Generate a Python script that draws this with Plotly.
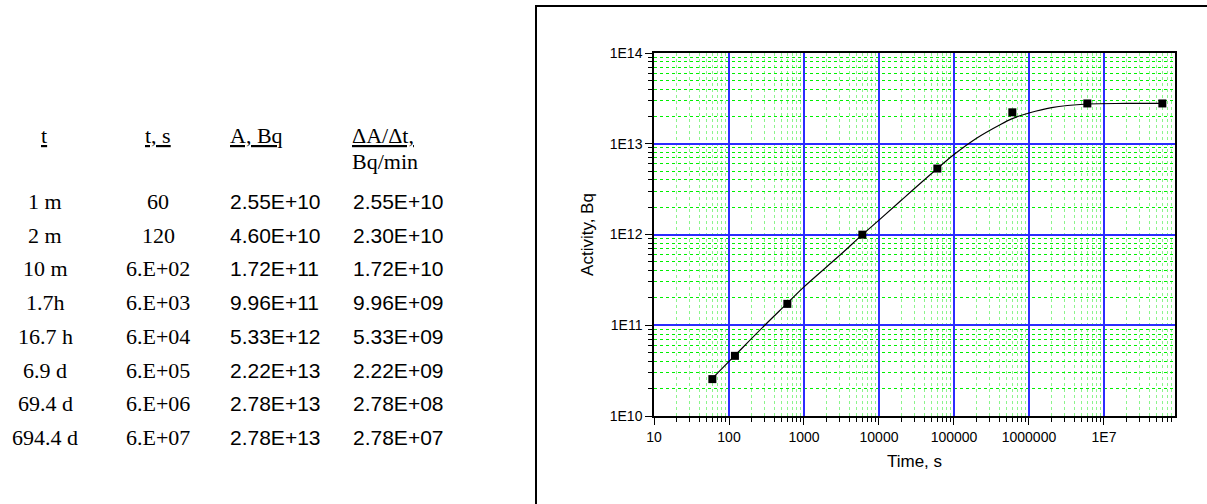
import plotly.graph_objects as go

# ---------------- data ----------------
# table columns
t_labels = ["1 m", "2 m", "10 m", "1.7h", "16.7 h", "6.9 d", "69.4 d", "694.4 d"]
t_s_labels = ["60", "120", "6.E+02", "6.E+03", "6.E+04", "6.E+05", "6.E+06", "6.E+07"]
A_labels = ["2.55E+10", "4.60E+10", "1.72E+11", "9.96E+11", "5.33E+12",
            "2.22E+13", "2.78E+13", "2.78E+13"]
dAdt_labels = ["2.55E+10", "2.30E+10", "1.72E+10", "9.96E+09", "5.33E+09",
               "2.22E+09", "2.78E+08", "2.78E+07"]

# measured points
time_s = [60, 120, 600, 6000, 60000, 600000, 6000000, 60000000]
activity_bq = [2.55e10, 4.60e10, 1.72e11, 9.96e11, 5.33e12, 2.22e13, 2.78e13, 2.78e13]

# fitted curve
curve_t = [60, 120, 300, 600, 1000, 3000, 6000, 10000, 20000, 60000, 100000,
           200000, 400000, 600000, 1000000, 2000000, 6000000, 20000000, 60000000]
curve_A = [2.6e10, 4.65e10, 1.0e11, 1.75e11, 2.65e11, 5.9e11, 9.96e11, 1.44e12,
           2.4e12, 5.33e12, 7.6e12, 1.15e13, 1.6e13, 1.89e13, 2.18e13, 2.5e13,
           2.74e13, 2.78e13, 2.79e13]

x_tickvals = [10, 100, 1000, 10000, 100000, 1000000, 10000000]
x_ticktext = ["10", "100", "1000", "10000", "100000", "1000000", "1E7"]
y_tickvals = [1e10, 1e11, 1e12, 1e13, 1e14]
y_ticktext = ["1E10", "1E11", "1E12", "1E13", "1E14"]

# minor (2..9 per decade) positions
minor_digits = [2, 3, 4, 5, 6, 7, 8, 9]
x_decades = [10, 100, 1000, 10000, 100000, 1000000, 10000000]
y_decades = [1e10, 1e11, 1e12, 1e13]
x_minor = [d * m for d in x_decades for m in minor_digits]
y_minor = [d * m for d in y_decades for m in minor_digits]

# ---------------- layout geometry (pixels) ----------------
W, H = 1207, 504
PL, PR, PT, PB = 654, 1175, 53, 416


def px_x(x):
    return (x - PL) / (PR - PL)


def px_y(y):
    return (PB - y) / (PB - PT)


SANS = "Liberation Sans, Arial, sans-serif"
SERIF = "Liberation Serif, Times New Roman, serif"

fig = go.Figure()
fig.add_trace(go.Scatter(
    x=curve_t, y=curve_A, mode="lines",
    line=dict(color="black", width=1.2, shape="spline", smoothing=1.0),
    hoverinfo="skip", showlegend=False))
fig.add_trace(go.Scatter(
    x=time_s, y=activity_bq, mode="markers",
    marker=dict(symbol="square", size=8, color="black"),
    showlegend=False))

minor_x = dict(tickmode="array", tickvals=x_minor, ticks="outside", ticklen=4,
               tickcolor="black", showgrid=True,
               gridcolor="#8cf58c", griddash="dot", gridwidth=1.3)
minor_y = dict(tickmode="array", tickvals=y_minor, ticks="outside", ticklen=4,
               tickcolor="black", showgrid=True,
               gridcolor="#00f000", griddash="dot", gridwidth=1.3)

common = dict(
    type="log", tickmode="array",
    ticks="outside", ticklen=7, tickwidth=1.2, tickcolor="black",
    showline=True, linecolor="black", linewidth=1.5, mirror=True,
    showgrid=True, gridcolor="#2c2cff", gridwidth=1.6, zeroline=False,
    tickfont=dict(family=SANS, size=14, color="black"))

fig.update_xaxes(
    range=[1, 7.947], tickvals=x_tickvals, ticktext=x_ticktext, minor=minor_x,
    title=dict(text="Time, s", font=dict(family=SANS, size=17, color="black"),
               standoff=12), **common)
fig.update_yaxes(
    range=[10, 14], tickvals=y_tickvals, ticktext=y_ticktext, minor=minor_y,
    title=dict(text="Activity, Bq", font=dict(family=SANS, size=17, color="black"),
               standoff=12), **common)

annotations = []


def add_text(text, x, y, family, size, xanchor):
    annotations.append(dict(
        text=text, x=px_x(x), y=px_y(y), xref="paper", yref="paper",
        xanchor=xanchor, yanchor="middle", showarrow=False,
        font=dict(family=family, size=size, color="black")))


# headers
add_text("<u>t</u>", 44, 135, SERIF, 22, "center")
add_text("<u>t, s</u>", 158, 135, SERIF, 22, "center")
add_text("<u>A, Bq</u>", 228, 135, SERIF, 22, "left")
add_text("<u>ΔA/Δt,</u>", 350, 135, SERIF, 22, "left")
add_text("Bq/min", 350, 161, SERIF, 22, "left")

row0, drow = 201.5, 33.7
for i in range(len(t_labels)):
    yy = row0 + i * drow
    add_text(t_labels[i], 45, yy, SERIF, 22, "center")
    add_text(t_s_labels[i], 158, yy, SERIF, 22, "center")
    add_text(A_labels[i], 228, yy, SANS, 21, "left")
    add_text(dAdt_labels[i], 351, yy, SANS, 21, "left")

shapes = [
    # outer frame (left and top edges)
    dict(type="line", xref="paper", yref="paper",
         x0=px_x(536), x1=px_x(536), y0=px_y(6), y1=px_y(504),
         line=dict(color="black", width=2)),
    dict(type="line", xref="paper", yref="paper",
         x0=px_x(535), x1=px_x(1207), y0=px_y(6), y1=px_y(6),
         line=dict(color="black", width=2)),
]

fig.update_layout(
    width=W, height=H, autosize=False,
    margin=dict(l=PL, r=W - PR, t=PT, b=H - PB),
    paper_bgcolor="white", plot_bgcolor="white",
    annotations=annotations, shapes=shapes,
    showlegend=False)

fig.write_html("out.html")
